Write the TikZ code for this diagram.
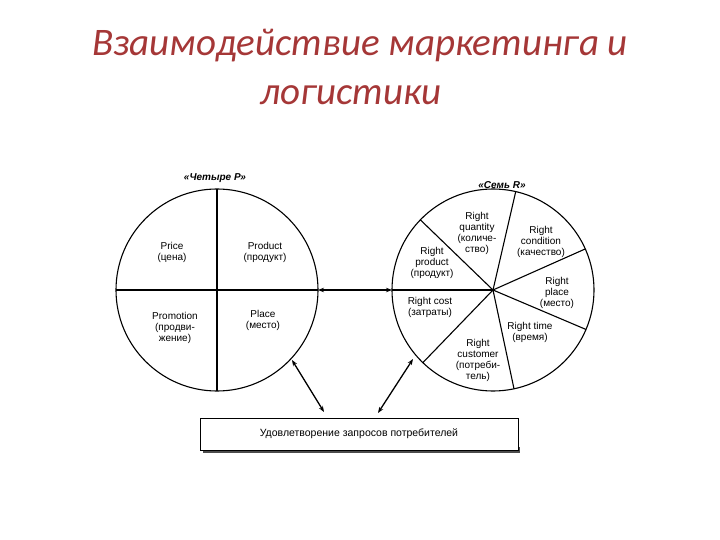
\documentclass[tikz,border=0pt]{standalone}
\usepackage{fontspec}
\setmainfont{Liberation Sans}
\newfontfamily\titlefont{Carlito}
\usetikzlibrary{arrows.meta}
\definecolor{titlered}{RGB}{165,55,55}
\begin{document}
\begin{tikzpicture}[x=1pt,y=-1pt,
  lbl/.style={font=\fontsize{10}{11}\selectfont, align=center, inner sep=0pt},
  hdr/.style={font=\fontsize{10}{11}\selectfont\bfseries\itshape, inner sep=0pt},
  ttl/.style={font=\titlefont\itshape\fontsize{39}{44}\selectfont, text=titlered, inner sep=0pt},
  ln/.style={line width=1.1pt},
  arr/.style={line width=1.3pt, {Stealth[length=6pt]}-{Stealth[length=6pt]}}]
\useasboundingbox (0,0) rectangle (720,540);
\node[ttl] (t1) at (360,46) {Взаимодействие маркетинга и};
\node[ttl] (t2) at (351,95) {логистики};
% left circle
\coordinate (L) at (217,290);
\draw[ln] (L) circle (101);
\draw[ln] (L) ++(0,-101) -- ++(0,202);
\draw[ln] (L) ++(-101,0) -- ++(202,0);
\coordinate (Le) at (318,290);
\node[hdr] (h1) at (215,178) {«Четыре Р»};
\node[lbl] (p1) at (172,252) {Price\\(цена)};
\node[lbl] (p2) at (265,252) {Product\\(продукт)};
\node[lbl] (p3) at (175,328) {Promotion\\(продви-\\жение)};
\node[lbl] (p4) at (263,320) {Place\\(место)};
% right circle
\coordinate (R) at (493,290);
\draw[ln] (R) circle (101);
\foreach \a in {180,136,77,24,-23,-78,-134}
  \draw[ln] (R) -- ++({101*cos(\a)},{-101*sin(\a)});
\coordinate (Re) at (392,290);
\node[hdr] (h2) at (502,185) {«Семь R»};
\node[lbl] (r1) at (477,233) {Right\\quantity\\(количе-\\ство)};
\node[lbl] (r2) at (541,242) {Right\\condition\\(качество)};
\node[lbl] (r3) at (432,263) {Right\\product\\(продукт)};
\node[lbl] (r4) at (557,293) {Right\\place\\(место)};
\node[lbl] (r5) at (430,307) {Right cost\\(затраты)};
\node[lbl] (r6) at (530,332) {Right time\\(время)};
\node[lbl] (r7) at (478,360) {Right\\customer\\(потреби-\\тель)};
% box
\fill[black!70] (203,447) rectangle (520,453);
\node[draw, line width=1pt, fill=white, minimum width=318pt, minimum height=32pt, font=\fontsize{10.5}{12}\selectfont] (box) at (359,434) {Удовлетворение запросов потребителей};
% arrows
\draw[arr] (Le) -- (Re);
\coordinate (a1) at (292,360);
\coordinate (b1) at (324,412);
\coordinate (a2) at (413,359);
\coordinate (b2) at (378,413);
\draw[arr] (a1) -- (b1);
\draw[arr] (a2) -- (b2);
\end{tikzpicture}
\end{document}
